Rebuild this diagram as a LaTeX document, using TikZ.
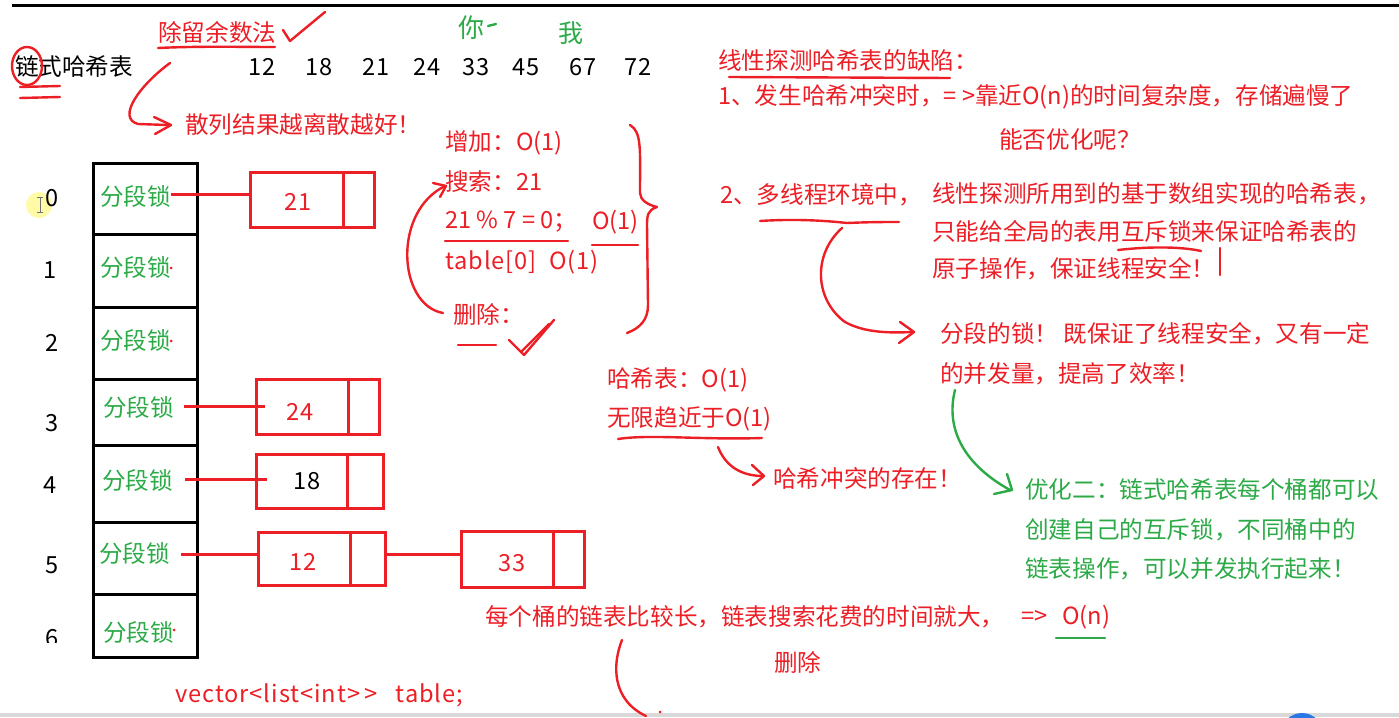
\documentclass[tikz,border=0pt]{standalone}
\usepackage{fontspec}
\setmainfont{Noto Sans CJK SC}
\definecolor{inkred}{RGB}{236,30,38}
\definecolor{inkgreen}{RGB}{44,170,72}
\definecolor{cursorblue}{RGB}{40,120,230}
\newcommand\fsz{\fontsize{23.6}{27}\selectfont}
\newcommand\widelatin{\addfontfeatures{LetterSpace=4}}
\tikzset{
  txt/.style={anchor=west, inner sep=0pt, font=\fsz},
  rt/.style={txt, text=inkred},
  gt/.style={txt, text=inkgreen},
  bt/.style={txt, text=black},
  num/.style={inner sep=0pt, font=\fsz},
  ink/.style={draw=inkred, line width=2.4pt, line cap=round, line join=round},
  gink/.style={draw=inkgreen, line width=2.4pt, line cap=round, line join=round},
  cell/.style={draw=inkred, line width=3pt, inner sep=0pt},
  link/.style={draw=inkred, line width=3pt},
  tab/.style={draw=black, line width=3pt},
}
\begin{document}
\begin{tikzpicture}[x=1pt,y=-1pt]
\useasboundingbox (0,0) rectangle (1399,717);
\fill[white] (0,0) rectangle (1399,717);
% frame lines
\draw[line width=3pt] (12,6) -- (1399,6);
\fill[black!15] (0,713) rectangle (1399,717);
\fill[cursorblue] (1302,734) circle (21);
% cursor highlight
\fill[yellow!35] (39,205) circle (13);
\draw[black!55, line width=0.8pt] (40,197) -- (40,212) (37,197) -- (43,197) (37,212) -- (43,212);

% ---------- title ----------
\node[bt] (title) at (15,67) {链式哈希表};
\draw[ink] (27,66) ellipse [x radius=15, y radius=19];
\draw[ink] (20,87) -- (60,86);
\draw[ink] (20,98) -- (60,97);

\node[rt] (mod) at (158,32) {除留余数法};
\draw[ink] (158,48) .. controls (200,46) and (240,47) .. (275,47);
\draw[ink] (283,30) -- (290,41) -- (325,12);

\foreach \v/\x in {12/262,18/319,21/376,24/427,33/476,45/526,67/583,72/638}
  \node[num] (k\v) at (\x,67) {\v};

\node[num, text=inkgreen, font=\fontsize{26}{30}\selectfont] (you) at (471,28) {你};
\draw[gink] (488,26) -- (496,24);
\node[num, text=inkgreen, font=\fontsize{25}{30}\selectfont] (me) at (571,33) {我};

\draw[ink] (170,63) .. controls (140,85) and (116,118) .. (138,124) -- (168,125);
\draw[ink] (154,117) -- (171,125) -- (155,134);
\node[rt] (scatter) at (185,125) {散列结果越离散越好！};

% ---------- bucket table ----------
\draw[tab] (93,163) rectangle (197,657);
\foreach \y in {234,307,379,445,522,594}
  \draw[tab] (93,\y) -- (197,\y);

\node[gt] (l0) at (100,197) {分段锁};
\node[gt] (l1) at (100,268) {分段锁};
\node[gt] (l2) at (100,341) {分段锁};
\node[gt] (l3) at (103,408) {分段锁};
\node[gt] (l4) at (102,481) {分段锁};
\node[gt] (l5) at (99,554) {分段锁};
\node[gt] (l6) at (103,632) {分段锁};

\node[num] (i0) at (52,198) {0};
\node[num] (i1) at (50,270) {1};
\node[num] (i2) at (52,343) {2};
\node[num] (i3) at (52,423) {3};
\node[num] (i4) at (50,485) {4};
\node[num] (i5) at (52,565) {5};
\begin{scope}
  \clip (0,600) rectangle (90,642);
  \node[num] (i6) at (52,638) {6};
\end{scope}

\fill[inkred] (l1.east) circle (1.5);
\fill[inkred] (l2.east) circle (1.5);
\fill[inkred] ([yshift=2pt]l6.east) circle (1.5);

% ---------- chain nodes ----------
\node[cell, minimum width=124pt, minimum height=55pt] (b21) at (312,199.5) {};
\draw[link] ([xshift=-32pt]b21.north east) -- ([xshift=-32pt]b21.south east);
\node[num, text=inkred] (n21) at (298,202) {21};

\node[cell, minimum width=123pt, minimum height=55pt] (b24) at (317.5,406.5) {};
\draw[link] ([xshift=-32pt]b24.north east) -- ([xshift=-32pt]b24.south east);
\node[num, text=inkred] (n24) at (300,412) {24};

\node[cell, minimum width=127pt, minimum height=54pt] (b18) at (319.5,481) {};
\draw[link] ([xshift=-37pt]b18.north east) -- ([xshift=-37pt]b18.south east);
\node[num] (n18) at (307,481) {18};

\node[cell, minimum width=127pt, minimum height=53pt] (b12) at (321.5,558.5) {};
\draw[link] ([xshift=-36pt]b12.north east) -- ([xshift=-36pt]b12.south east);
\node[num, text=inkred] (n12) at (303,562) {12};

\node[cell, minimum width=123pt, minimum height=56pt] (b33) at (522.5,559) {};
\draw[link] ([xshift=-32pt]b33.north east) -- ([xshift=-32pt]b33.south east);
\node[num, text=inkred] (n33) at (512,563) {33};

\draw[link] ([yshift=3pt]l0.east) -- ([yshift=3pt]l0.east -| b21.west);
\draw[link] ([xshift=10pt,yshift=2pt]l3.east) -- ([xshift=10pt,yshift=2pt]l3.east -| b24.west);
\draw[link] ([xshift=12pt,yshift=2pt]l4.east) -- ([xshift=12pt,yshift=2pt]l4.east -| b18.west);
\draw[link] ([xshift=11pt]l5.east) -- (l5.east -| b12.west);
\draw[link] ([yshift=4.5pt]b12.east) -- ([yshift=4.5pt]b12.east -| b33.west);

% ---------- operations ----------
\node[rt] (add) at (445,143) {增加：O(1)};
\node[rt] (search) at (445,182) {搜索：21};
\node[rt] (calc) at (445,222) {21 \% 7 = 0；};
\node[rt] (o1) at (592,222) {O(1)};
\node[rt] (tab0) at (445,262) {\widelatin table[0]~~O(1)};
\node[rt] (del) at (453,314) {删除：};
\draw[ink] (445,241) -- (568,241);
\draw[ink] (592,245) -- (638,245);
\draw[ink] (458,345) -- (496,345);
\draw[ink] (509,340) -- (524,355) -- (554,320);
\draw[ink] (521,352) -- (549,324);
\draw[ink] (443,313) .. controls (398,305) and (392,212) .. (445,186);
\draw[ink] (433,183) -- (446,186) -- (440,197);
\draw[ink] (630,125) .. controls (642,132) and (640,150) .. (640,193)
  .. controls (640,200) and (648,205) .. (657,207)
  .. controls (648,210) and (647,215) .. (647,225) -- (648,305)
  .. controls (648,320) and (640,328) .. (627,333);

% ---------- hash table O(1) ----------
\node[rt] (hO) at (607,380) {哈希表：O(1)};
\node[rt] (inf) at (607,419) {无限趋近于O(1)};
\draw[ink] (618,439) .. controls (650,434) and (700,440) .. (762,438);
\draw[ink] (718,447) .. controls (725,465) and (740,476) .. (763,476);
\draw[ink] (752,465) -- (764,476) -- (753,485);
\node[rt] (coll) at (773,478) {哈希冲突的存在！};

% ---------- right block ----------
\node[rt] (def) at (718,61) {线性探测哈希表的缺陷：};
\draw[ink] (729,77) -- (950,78);
\node[rt] (p1) at (718,97) {1、发生哈希冲突时，= >靠近O(n)的时间复杂度，存储遍慢了};
\node[rt] (q) at (999,140) {能否优化呢？};
\node[rt] (p2) at (720,195) {2、多线程环境中，};
\node[rt] (p2a) at (932,194) {线性探测所用到的基于数组实现的哈希表，};
\node[rt] (p2b) at (932,231) {只能给全局的表用互斥锁来保证哈希表的};
\node[rt] (p2c) at (932,269) {原子操作，保证线程安全！};
\draw[ink] (760,221) .. controls (790,219) and (820,220) .. (847,223)
  .. controls (870,222) and (885,222) .. (899,222);
\draw[ink] (842,228) .. controls (812,255) and (815,300) .. (845,322)
  .. controls (865,333) and (890,333) .. (913,332);
\draw[ink] (900,322) -- (914,332) -- (899,343);
\draw[ink] (1118,250) .. controls (1153,246) and (1183,247) .. (1201,251);
\draw[ink] (1220,248) -- (1220,275);

\node[rt] (seg) at (940,334) {分段的锁！ 既保证了线程安全，又有一定};
\node[rt] (seg2) at (940,374) {的并发量，提高了效率！};

\draw[gink] (955,390) .. controls (945,430) and (965,465) .. (1010,490);
\draw[gink] (1007,474) -- (1012,490) -- (994,494);
\node[gt] (opt1) at (1025,490) {优化二：链式哈希表每个桶都可以};
\node[gt] (opt2) at (1025,530) {创建自己的互斥锁，不同桶中的};
\node[gt] (opt3) at (1025,569) {链表操作，可以并发执行起来！};

% ---------- bottom ----------
\node[rt] (long) at (485,617) {每个桶的链表比较长，链表搜索花费的时间就大，};
\node[rt] (imp) at (1021,617) {=>};
\node[rt] (on) at (1062,617) {O(n)};
\draw[gink] (1056,638) -- (1105,638);
\node[rt] (del2) at (774,662) {删除};
\draw[ink] (622,640) .. controls (612,665) and (612,700) .. (646,716);
\fill[inkred] (660,712) circle (1.5);
\node[rt] (vec) at (175,695) {\widelatin vector<list<int>{}\,>~~~table;};
\end{tikzpicture}
\end{document}
